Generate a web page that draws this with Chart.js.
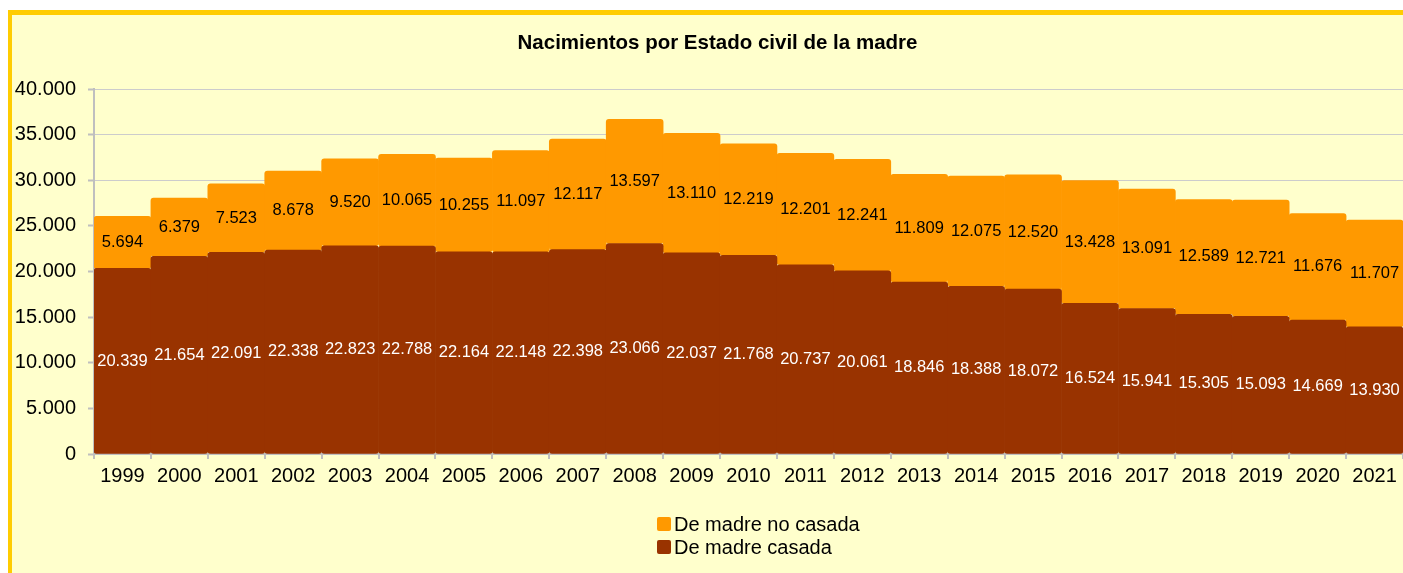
<!DOCTYPE html>
<html>
<head>
<meta charset="utf-8">
<script src="https://cdn.jsdelivr.net/npm/chart.js@4.4.1/dist/chart.umd.min.js"></script>
<style>
  html, body { margin: 0; padding: 0; background: #ffffff; }
  #wrap { position: relative; width: 1403px; height: 573px; }
  canvas { display: block; }
</style>
</head>
<body>
<div id="wrap"><canvas id="c" width="1403" height="573"></canvas></div>
<script>
const years = ['1999','2000','2001','2002','2003','2004','2005','2006','2007','2008','2009','2010','2011','2012','2013','2014','2015','2016','2017','2018','2019','2020','2021'];
const madreCasada = [20339, 21654, 22091, 22338, 22823, 22788, 22164, 22148, 22398, 23066, 22037, 21768, 20737, 20061, 18846, 18388, 18072, 16524, 15941, 15305, 15093, 14669, 13930];
const madreNoCasada = [5694, 6379, 7523, 8678, 9520, 10065, 10255, 11097, 12117, 13597, 13110, 12219, 12201, 12241, 11809, 12075, 12520, 13428, 13091, 12589, 12721, 11676, 11707];
const seriesNames = ['De madre casada', 'De madre no casada'];
const titleText = 'Nacimientos por Estado civil de la madre';

const FONT = "'Liberation Sans', Arial, sans-serif";
function fmt(v) { return String(Math.round(v)).replace(/\B(?=(\d{3})+(?!\d))/g, '.'); }

const framePlugin = {
  id: 'frame',
  beforeDraw(chart) {
    const ctx = chart.ctx;
    ctx.save();
    ctx.fillStyle = '#ffffff';
    ctx.fillRect(0, 0, chart.width, chart.height);
    ctx.fillStyle = '#FFCC00';
    ctx.fillRect(8, 10, chart.width, chart.height);
    ctx.fillStyle = '#FFFFCC';
    ctx.fillRect(12, 15, chart.width, chart.height);
    ctx.restore();
  }
};

const titlePlugin = {
  id: 'shiftedTitle',
  afterDraw(chart) {
    const ctx = chart.ctx;
    ctx.save();
    ctx.font = 'bold 20.5px ' + FONT;
    ctx.fillStyle = '#000000';
    ctx.textAlign = 'center';
    ctx.textBaseline = 'middle';
    ctx.fillText(titleText, chart.width / 2 + 16, 43);
    ctx.restore();
  }
};

const labelPlugin = {
  id: 'barLabels',
  afterDatasetsDraw(chart) {
    const ctx = chart.ctx;
    ctx.save();
    ctx.font = '16.5px ' + FONT;
    ctx.textAlign = 'center';
    ctx.textBaseline = 'middle';
    chart.data.datasets.forEach((ds, i) => {
      const meta = chart.getDatasetMeta(i);
      ctx.fillStyle = i === 0 ? '#ffffff' : '#000000';
      meta.data.forEach((bar, j) => {
        const y = (bar.y + bar.base) / 2;
        ctx.fillText(fmt(ds.data[j]), bar.x, y);
      });
    });
    ctx.restore();
  }
};

const legendPlugin = {
  id: 'vLegend',
  afterDraw(chart) {
    const ctx = chart.ctx;
    ctx.save();
    ctx.font = '20px ' + FONT;
    ctx.textBaseline = 'middle';
    ctx.textAlign = 'left';
    const items = [chart.data.datasets[1], chart.data.datasets[0]];
    const x0 = 657, y0 = 524, dy = 23;
    items.forEach((ds, k) => {
      const y = y0 + k * dy;
      ctx.fillStyle = ds.backgroundColor;
      ctx.beginPath();
      ctx.roundRect(x0, y - 7, 14, 14, 2);
      ctx.fill();
      ctx.fillStyle = '#000000';
      ctx.fillText(ds.label, x0 + 17, y + 1);
    });
    ctx.restore();
  }
};

const radius = {topLeft: 3, topRight: 3, bottomLeft: 3, bottomRight: 3};

new Chart(document.getElementById('c'), {
  type: 'bar',
  data: {
    labels: years,
    datasets: [
      { label: seriesNames[0], data: madreCasada, backgroundColor: '#993300', borderWidth: 0, borderRadius: radius, borderSkipped: false, barPercentage: 1, categoryPercentage: 1 },
      { label: seriesNames[1], data: madreNoCasada, backgroundColor: '#FF9900', borderWidth: 0, borderRadius: radius, borderSkipped: false, barPercentage: 1, categoryPercentage: 1 }
    ]
  },
  options: {
    responsive: false,
    animation: false,
    devicePixelRatio: 1,
    layout: { padding: { left: 0, right: 0, top: 0, bottom: 80 } },
    plugins: {
      legend: { display: false },
      tooltip: { enabled: false },
      title: {
        display: true,
        text: titleText,
        color: 'rgba(0,0,0,0)',
        font: { family: FONT, size: 20, weight: 'bold' },
        padding: { top: 31, bottom: 34 }
      }
    },
    scales: {
      x: {
        stacked: true,
        offset: true,
        grid: { display: true, drawOnChartArea: false, drawTicks: true, tickLength: 5, offset: true, color: '#BFBFBF', lineWidth: 2 },
        border: { display: true, color: '#BFBFBF', width: 2 },
        ticks: { color: '#000000', font: { family: FONT, size: 20 }, padding: 5, maxRotation: 0, autoSkip: false }
      },
      y: {
        stacked: true,
        min: 0, max: 40000,
        afterFit(scale) { scale.width = 94; },
        grid: { color: '#CCCCCC', lineWidth: 1, borderDash: [2, 2], drawTicks: true, tickLength: 6, tickColor: '#BFBFBF', tickWidth: 2 },
        border: { display: true, color: '#BFBFBF', width: 2, dash: [] },
        ticks: { stepSize: 5000, color: '#000000', font: { family: FONT, size: 20 }, padding: 12, callback: (v) => fmt(v) }
      }
    }
  },
  plugins: [framePlugin, labelPlugin, legendPlugin, titlePlugin]
});
</script>
</body>
</html>
